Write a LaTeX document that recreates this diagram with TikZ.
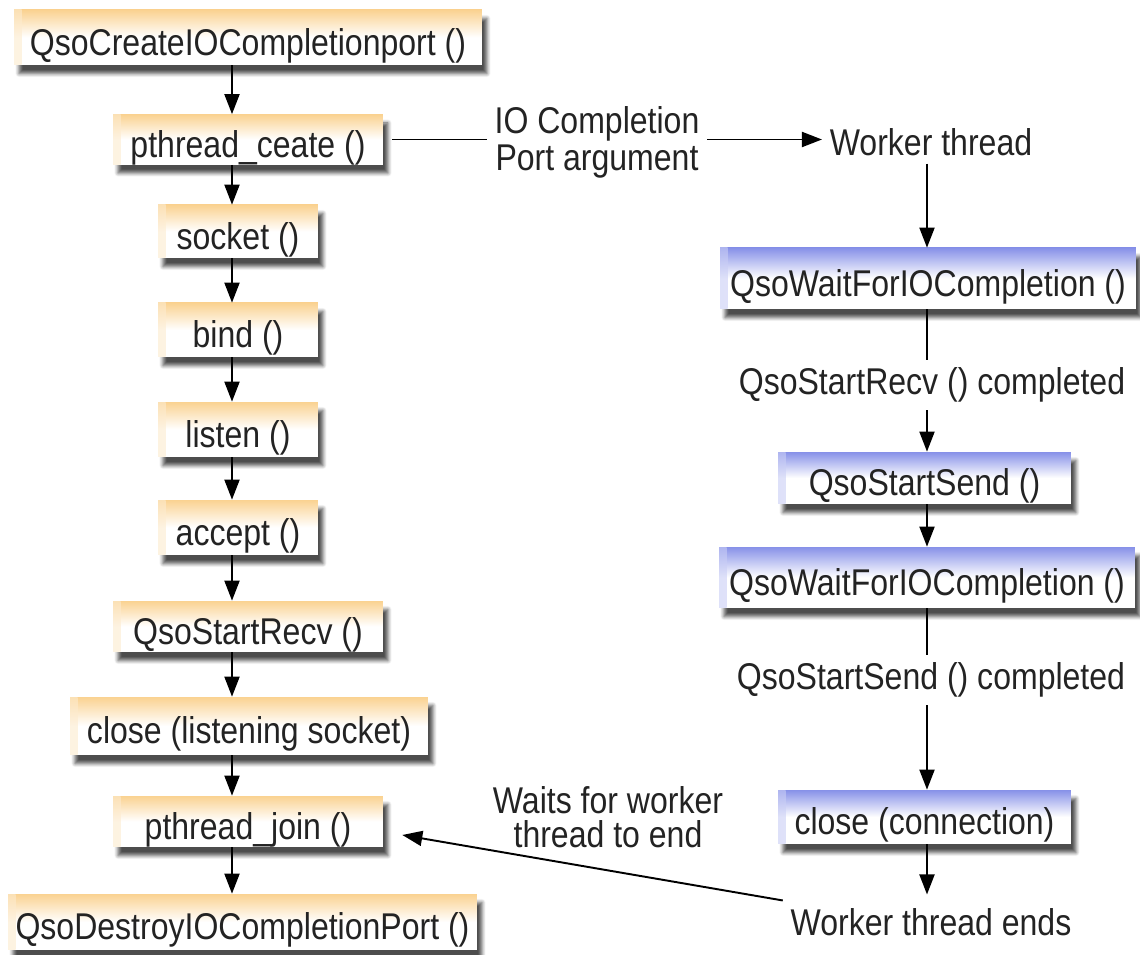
\documentclass[tikz,border=0pt]{standalone}
\usepackage{fontspec}
\setmainfont{Liberation Sans}[FakeStretch=0.86]
\usepackage{xcolor}
\usepackage{tikz}
\usetikzlibrary{arrows.meta,positioning,shadows.blur}
\definecolor{boxorange}{RGB}{250,210,145}
\definecolor{boxblue}{RGB}{135,145,232}
\definecolor{inkgray}{RGB}{35,35,35}

\begin{document}
\begin{tikzpicture}[
  x=0.02cm,y=-0.02cm,
  font=\fontsize{21.2}{18.6}\selectfont,
  box/.style={inner sep=0pt, text=inkgray, text height=0.72cm, text depth=0pt,
    top color=#1, bottom color=white, middle color=white,
    path picture={\shade[left color=#1!45, right color=white, opacity=0.6]
      (path picture bounding box.north west) rectangle ([xshift=0.15cm]path picture bounding box.south west);},
    blur shadow={shadow xshift=0.1cm, shadow yshift=-0.17cm, shadow blur steps=6, shadow opacity=70}},
  box/.default=boxorange,
  note/.style={align=center, inner sep=0.15cm, text=inkgray},
  arrow/.style={-{Triangle[length=0.4cm,width=0.3cm]}, line width=1.1pt},
  link/.style={line width=1.1pt}
]
\useasboundingbox (0,0) rectangle (1140,955);
\coordinate (spine) at (232,0);
\coordinate (rspine) at (927,0);

\node[box, minimum width=9.36cm, minimum height=1.1cm] (create) at (248,37.5) {QsoCreateIOCompletionport ()};
\node[box, minimum width=5.4cm, minimum height=1.0cm] (pthread) at (248,139.5) {pthread\_ceate ()};
\node[box, minimum width=3.2cm, minimum height=1.06cm] (socket) at (238,231.5) {socket ()};
\node[box, minimum width=3.2cm, minimum height=1.08cm] (bind) at (238,330) {bind ()};
\node[box, minimum width=3.2cm, minimum height=1.1cm] (listen) at (238,429.5) {listen ()};
\node[box, minimum width=3.2cm, minimum height=1.1cm] (accept) at (238,527.5) {accept ()};
\node[box, minimum width=5.4cm, minimum height=1.02cm] (startrecv) at (248,626.5) {QsoStartRecv ()};
\node[box, minimum width=7.16cm, minimum height=1.16cm] (closels) at (249,726) {close (listening socket)};
\node[box, minimum width=5.4cm, minimum height=1.02cm] (join) at (248,821.5) {pthread\_join ()};
\node[box, minimum width=9.38cm, minimum height=1.12cm] (destroy) at (242.5,922) {QsoDestroyIOCompletionPort ()};

\node[note] (portarg) at (597,142) {IO Completion\\[1pt]Port argument};
\node[note] (worker) at (931,142) {Worker thread};
\node[box=boxblue, minimum width=8.32cm, minimum height=1.22cm] (wait1) at (928,278.5) {QsoWaitForIOCompletion ()};
\node[note] (recvdone) at (932,385) {QsoStartRecv () completed};
\node[box=boxblue, minimum width=5.86cm, minimum height=1.04cm] (startsend) at (924.5,478) {QsoStartSend ()};
\node[box=boxblue, minimum width=8.32cm, minimum height=1.22cm] (wait2) at (927,577.5) {QsoWaitForIOCompletion ()};
\node[note] (senddone) at (931,680) {QsoStartSend () completed};
\node[box=boxblue, minimum width=5.86cm, minimum height=1.08cm] (closecon) at (924.5,817) {close (connection)};
\node[note] (workerend) at (931,922) {Worker thread ends};
\node[note] (waitsnote) at (608,817) {Waits for worker\\[1pt]thread to end};

\foreach \a/\b in {create/pthread, pthread/socket, socket/bind, bind/listen, listen/accept,
  accept/startrecv, startrecv/closels, closels/join, join/destroy}
  \draw[arrow] (\a.south -| spine) -- (\b.north -| spine);

\draw[link] ([xshift=0.18cm]pthread.east) -- (pthread.east -| portarg.west);
\draw[arrow] (portarg.east |- pthread.east) -- (worker.west |- pthread.east);

\draw[arrow] (worker.south -| rspine) -- (wait1.north -| rspine);
\draw[link] (wait1.south -| rspine) -- (recvdone.north -| rspine);
\draw[arrow] (recvdone.south -| rspine) -- (startsend.north -| rspine);
\draw[arrow] (startsend.south -| rspine) -- (wait2.north -| rspine);
\draw[link] (wait2.south -| rspine) -- (senddone.north -| rspine);
\draw[arrow] (senddone.south -| rspine) -- (closecon.north -| rspine);
\draw[arrow] (closecon.south -| rspine) -- ([yshift=0.12cm]workerend.north -| rspine);

\draw[arrow] (workerend.north west) -- ([xshift=0.38cm,yshift=-0.27cm]join.east);
\end{tikzpicture}
\end{document}
